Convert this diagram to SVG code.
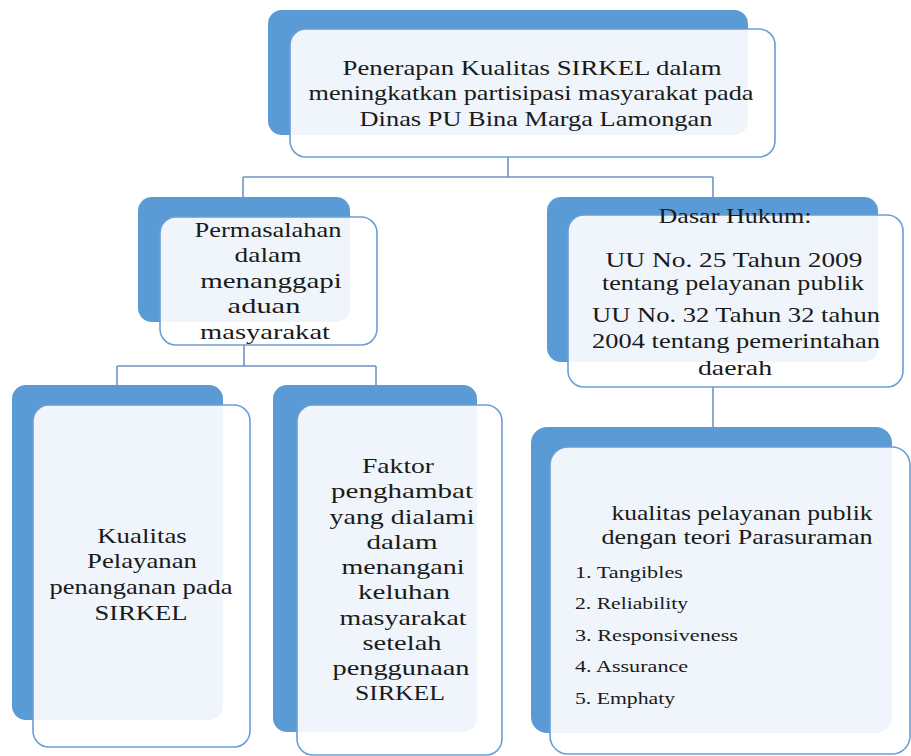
<svg xmlns="http://www.w3.org/2000/svg" width="911" height="756" viewBox="0 0 911 756">
<style>
.back{fill:#5b9bd5;}
.front{fill:#ffffff;fill-opacity:0.9;stroke:#6a9fd4;stroke-width:1.6;}
.conn{fill:none;stroke:#6f93c2;stroke-width:1.6;}
text{font-family:"Liberation Serif","Times New Roman",serif;fill:#1a1a1a;}
.t20{font-size:20px;text-anchor:middle;}
.t21{font-size:21px;text-anchor:middle;}
.t22{font-size:22px;text-anchor:middle;}
.li{font-size:17px;text-anchor:start;}
</style>
<rect width="911" height="756" fill="#ffffff"/>
<g id="connectors">
<path class="conn" d="M508 157V177M243 177H713M243 177V197M713 177V197"/>
<path class="conn" d="M244 345V366M117 366H376M117 366V385M376 366V385"/>
<path class="conn" d="M713 387V427"/>
</g>
<g id="node-top">
<rect class="back" x="268" y="10" width="480" height="125" rx="14"/>
<rect class="front" x="290" y="29" width="485" height="128" rx="16"/>
<text class="t20" transform="translate(532 75) scale(1.3 1)" textLength="291.5" lengthAdjust="spacingAndGlyphs">Penerapan Kualitas SIRKEL dalam</text>
<text class="t20" transform="translate(531 100) scale(1.3 1)" textLength="342.3" lengthAdjust="spacingAndGlyphs">meningkatkan partisipasi masyarakat pada</text>
<text class="t20" transform="translate(536 126) scale(1.3 1)" textLength="271.5" lengthAdjust="spacingAndGlyphs">Dinas PU Bina Marga Lamongan</text>
</g>
<g id="node-permasalahan">
<rect class="back" x="138" y="197" width="212" height="125" rx="14"/>
<rect class="front" x="160" y="217" width="217" height="128" rx="16"/>
<text class="t20" transform="translate(268 237) scale(1.3 1)" textLength="113" lengthAdjust="spacingAndGlyphs">Permasalahan</text>
<text class="t20" transform="translate(268 262) scale(1.3 1)" textLength="51.5" lengthAdjust="spacingAndGlyphs">dalam</text>
<text class="t20" transform="translate(271 288) scale(1.3 1)" textLength="109" lengthAdjust="spacingAndGlyphs">menanggapi</text>
<text class="t20" transform="translate(264 313) scale(1.3 1)" textLength="56" lengthAdjust="spacingAndGlyphs">aduan</text>
<text class="t20" transform="translate(265 339) scale(1.3 1)" textLength="100" lengthAdjust="spacingAndGlyphs">masyarakat</text>
</g>
<g id="node-dasar-hukum">
<rect class="back" x="547" y="197" width="331" height="165" rx="14"/>
<rect class="front" x="568" y="215" width="335" height="172" rx="16"/>
<text class="t20" transform="translate(735 223) scale(1.3 1)" textLength="117.7" lengthAdjust="spacingAndGlyphs">Dasar Hukum:</text>
<text class="t21" transform="translate(734 267) scale(1.3 1)" textLength="197.7" lengthAdjust="spacingAndGlyphs">UU No. 25 Tahun 2009</text>
<text class="t21" transform="translate(733 290) scale(1.3 1)" textLength="201.5" lengthAdjust="spacingAndGlyphs">tentang pelayanan publik</text>
<text class="t21" transform="translate(736 322) scale(1.3 1)" textLength="221.5" lengthAdjust="spacingAndGlyphs">UU No. 32 Tahun 32 tahun</text>
<text class="t21" transform="translate(736 348) scale(1.3 1)" textLength="221.5" lengthAdjust="spacingAndGlyphs">2004 tentang pemerintahan</text>
<text class="t21" transform="translate(735 375) scale(1.3 1)" textLength="57" lengthAdjust="spacingAndGlyphs">daerah</text>
</g>
<g id="node-kualitas-pelayanan">
<rect class="back" x="12" y="385" width="211" height="335" rx="14"/>
<rect class="front" x="33" y="405" width="217" height="342" rx="16"/>
<text class="t21" transform="translate(142 543) scale(1.3 1)" textLength="69" lengthAdjust="spacingAndGlyphs">Kualitas</text>
<text class="t21" transform="translate(142 568) scale(1.3 1)" textLength="84.6" lengthAdjust="spacingAndGlyphs">Pelayanan</text>
<text class="t21" transform="translate(141 594) scale(1.3 1)" textLength="140.8" lengthAdjust="spacingAndGlyphs">penanganan pada</text>
<text class="t21" transform="translate(141 620) scale(1.3 1)" textLength="71.5" lengthAdjust="spacingAndGlyphs">SIRKEL</text>
</g>
<g id="node-faktor">
<rect class="back" x="273" y="385" width="204" height="347" rx="14"/>
<rect class="front" x="297" y="405" width="205" height="350" rx="16"/>
<text class="t22" transform="translate(398 473) scale(1.3 1)" textLength="55.4" lengthAdjust="spacingAndGlyphs">Faktor</text>
<text class="t22" transform="translate(402 498) scale(1.3 1)" textLength="109.2" lengthAdjust="spacingAndGlyphs">penghambat</text>
<text class="t22" transform="translate(402 524) scale(1.3 1)" textLength="111.5" lengthAdjust="spacingAndGlyphs">yang dialami</text>
<text class="t22" transform="translate(402 549) scale(1.3 1)" textLength="54.6" lengthAdjust="spacingAndGlyphs">dalam</text>
<text class="t22" transform="translate(403 574) scale(1.3 1)" textLength="94.6" lengthAdjust="spacingAndGlyphs">menangani</text>
<text class="t22" transform="translate(404 599) scale(1.3 1)" textLength="70.8" lengthAdjust="spacingAndGlyphs">keluhan</text>
<text class="t22" transform="translate(403 625) scale(1.3 1)" textLength="97.7" lengthAdjust="spacingAndGlyphs">masyarakat</text>
<text class="t22" transform="translate(402 650) scale(1.3 1)" textLength="60.8" lengthAdjust="spacingAndGlyphs">setelah</text>
<text class="t22" transform="translate(401 675) scale(1.3 1)" textLength="105.4" lengthAdjust="spacingAndGlyphs">penggunaan</text>
<text class="t22" transform="translate(400 700) scale(1.3 1)" textLength="69.2" lengthAdjust="spacingAndGlyphs">SIRKEL</text>
</g>
<g id="node-parasuraman">
<rect class="back" x="531" y="427" width="361" height="306" rx="16"/>
<rect class="front" x="550" y="447" width="360" height="307" rx="18"/>
<text class="t20" transform="translate(742 520) scale(1.3 1)" textLength="200.8" lengthAdjust="spacingAndGlyphs">kualitas pelayanan publik</text>
<text class="t20" transform="translate(737 544) scale(1.3 1)" textLength="208.5" lengthAdjust="spacingAndGlyphs">dengan teori Parasuraman</text>
<text class="li" transform="translate(575 578) scale(1.3 1)" textLength="83" lengthAdjust="spacingAndGlyphs">1. Tangibles</text>
<text class="li" transform="translate(575 609) scale(1.3 1)" textLength="87" lengthAdjust="spacingAndGlyphs">2. Reliability</text>
<text class="li" transform="translate(575 641) scale(1.3 1)" textLength="125.4" lengthAdjust="spacingAndGlyphs">3. Responsiveness</text>
<text class="li" transform="translate(575 672) scale(1.3 1)" textLength="87" lengthAdjust="spacingAndGlyphs">4. Assurance</text>
<text class="li" transform="translate(575 704) scale(1.3 1)" textLength="77" lengthAdjust="spacingAndGlyphs">5. Emphaty</text>
</g>
</svg>
